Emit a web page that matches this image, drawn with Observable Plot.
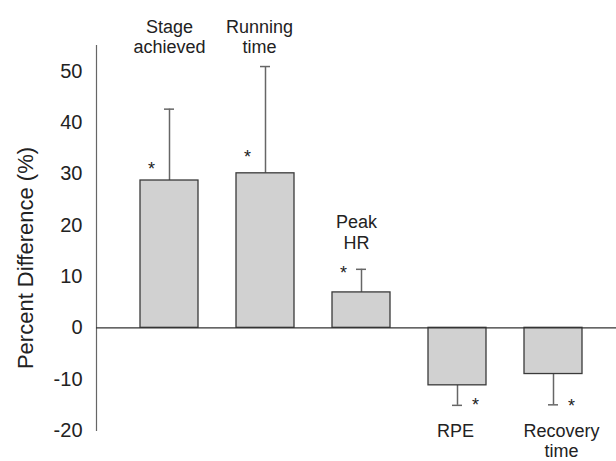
<!DOCTYPE html>
<html>
<head>
<meta charset="utf-8">
<script src="https://cdn.jsdelivr.net/npm/d3@7"></script>
<script src="https://cdn.jsdelivr.net/npm/@observablehq/plot@0.6"></script>
<style>
  html, body { margin: 0; padding: 0; background: #fff; }
  #chart svg { display: block; font-family: "Liberation Sans", Arial, Helvetica, sans-serif; }
</style>
</head>
<body>
<div id="chart"></div>
<script>
// Data
const categories = ["Stage achieved", "Running time", "Peak HR", "RPE", "Recovery time"];
const labels = ["Stage\nachieved", "Running\ntime", "Peak\nHR", "RPE", "Recovery\ntime"];
const values = [28.7, 30.1, 6.9, -11.2, -9.0];
const errorEnds = [42.6, 50.9, 11.4, -15.1, -15.0];
const starY = [31.8, 34.1, 11.5, -14.2, -14.4];
const labelY = [60.3, 60.3, 22.2, -18.4, -18.4];
const yTicks = [-20, -10, 0, 10, 20, 30, 40, 50];
const yLabel = "Percent Difference (%)";

const data = categories.map((c, i) => ({
  cat: c, label: labels[i], value: values[i], err: errorEnds[i], star: starY[i], ly: labelY[i]
}));

const labelDx = [0, -6, -5, -2, 8];
const ink = "#222";

const chart = Plot.plot({
  width: 616,
  height: 461,
  marginLeft: 96,
  marginRight: 0,
  marginTop: 45,
  marginBottom: 31,
  style: { fontFamily: '"Liberation Sans", Arial, Helvetica, sans-serif', background: "#fff", color: ink },
  x: { type: "band", domain: categories, range: [96, 626], paddingInner: 0.4, paddingOuter: 0.45, axis: null },
  y: { domain: [-20, 55], axis: null },
  marks: [
    Plot.frame({ anchor: "left", stroke: "#666", strokeWidth: 1.2 }),
    Plot.axisY(yTicks, { tickSize: 0, tickPadding: 14, fontSize: 20, fill: ink, label: null, tickFormat: d => String(d) }),
    Plot.ruleX(data, { x: "cat", y1: "value", y2: "err", stroke: "#666", strokeWidth: 1.5 }),
    Plot.tickY(data, { x: "cat", y: "err", stroke: "#666", strokeWidth: 1.5, insetLeft: 24, insetRight: 24 }),
    Plot.barY(data, { x: "cat", y: "value", fill: "#d1d1d1", stroke: "#3a3a3a", strokeWidth: 1.3 }),
    Plot.ruleY([0], { stroke: "#333", strokeWidth: 1.2 }),
    Plot.text(data.filter(d => d.value > 0), { x: "cat", y: "star", text: () => "*", fontSize: 18, dx: -18, dy: 4.5, fill: ink }),
    Plot.text(data.filter(d => d.value < 0), { x: "cat", y: "star", text: () => "*", fontSize: 18, dx: 18, dy: 4.5, fill: ink }),
    ...data.map((d, i) => Plot.text([d], { x: "cat", y: "ly", text: "label", fontSize: 18, lineAnchor: "top", lineHeight: 1.13, dx: labelDx[i], fill: ink })),
    Plot.text([yLabel], { frameAnchor: "left", textAnchor: "middle", rotate: -90, fontSize: 22, dx: -71, dy: 20, fill: ink, text: d => d })
  ]
});

document.getElementById("chart").appendChild(chart);
</script>
</body>
</html>
